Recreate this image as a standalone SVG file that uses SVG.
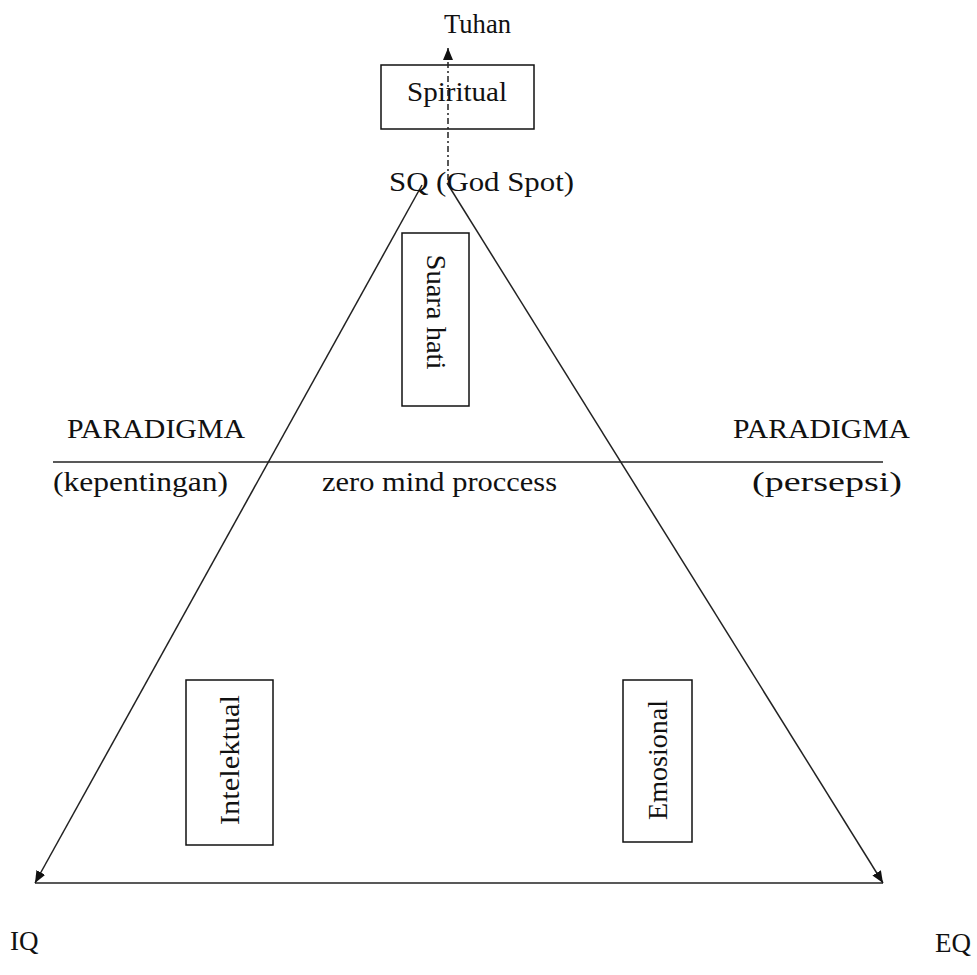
<svg xmlns="http://www.w3.org/2000/svg" width="977" height="975" viewBox="0 0 977 975">
<style>
text{font-family:"Liberation Serif","Times New Roman",serif;font-size:27px;fill:#111}
.box{fill:#fff;stroke:#111;stroke-width:1.5}
.ln{fill:none;stroke:#222;stroke-width:1.5}
</style>
<defs>
<marker id="ah" viewBox="0 0 12 10" refX="12" refY="5" markerWidth="12" markerHeight="10" markerUnits="userSpaceOnUse" orient="auto">
<path d="M0,0 L12,5 L0,10 z" fill="#111"/>
</marker>
</defs>
<rect width="977" height="975" fill="#fff"/>
<g id="connectors">
<line class="ln" x1="53" y1="462" x2="883" y2="462"/>
<line class="ln" x1="35" y1="883" x2="883" y2="883"/>
<line class="ln" x1="422" y1="185" x2="35" y2="883" marker-end="url(#ah)"/>
<line class="ln" x1="447" y1="183" x2="883" y2="883" marker-end="url(#ah)"/>
</g>
<g id="spiritual">
<rect class="box" x="381" y="65" width="153" height="64"/>
<text x="457" y="101" text-anchor="middle" textLength="100" lengthAdjust="spacingAndGlyphs">Spiritual</text>
</g>
<g id="god-arrow">
<line class="ln" x1="448" y1="180" x2="448" y2="48" stroke-dasharray="6 3 2 3" marker-end="url(#ah)"/>
</g>
<g id="tuhan"><text x="444" y="33" textLength="67" lengthAdjust="spacingAndGlyphs">Tuhan</text></g>
<g id="sq"><text x="389" y="191" textLength="185" lengthAdjust="spacingAndGlyphs">SQ  (God Spot)</text></g>
<g id="suara-hati">
<rect class="box" x="402" y="233" width="67" height="173"/>
<text transform="translate(427,312) rotate(90)" text-anchor="middle" textLength="115" lengthAdjust="spacingAndGlyphs">Suara hati</text>
</g>
<g id="paradigma-left">
<text x="67" y="438" textLength="178" lengthAdjust="spacingAndGlyphs">PARADIGMA</text>
<text x="53" y="491" textLength="175" lengthAdjust="spacingAndGlyphs">(kepentingan)</text>
</g>
<g id="zero-mind"><text x="322" y="491" textLength="235" lengthAdjust="spacingAndGlyphs">zero mind proccess</text></g>
<g id="paradigma-right">
<text x="733" y="438" textLength="177" lengthAdjust="spacingAndGlyphs">PARADIGMA</text>
<text x="752" y="491" textLength="150" lengthAdjust="spacingAndGlyphs">(persepsi)</text>
</g>
<g id="intelektual">
<rect class="box" x="186" y="680" width="87" height="165"/>
<text transform="translate(239,760) rotate(-90)" text-anchor="middle" textLength="130" lengthAdjust="spacingAndGlyphs">Intelektual</text>
</g>
<g id="emosional">
<rect class="box" x="623" y="680" width="69" height="162"/>
<text transform="translate(667,760) rotate(-90)" text-anchor="middle" textLength="120" lengthAdjust="spacingAndGlyphs">Emosional</text>
</g>
<g id="iq"><text x="10" y="950">IQ</text></g>
<g id="eq"><text x="935" y="952">EQ</text></g>
</svg>
